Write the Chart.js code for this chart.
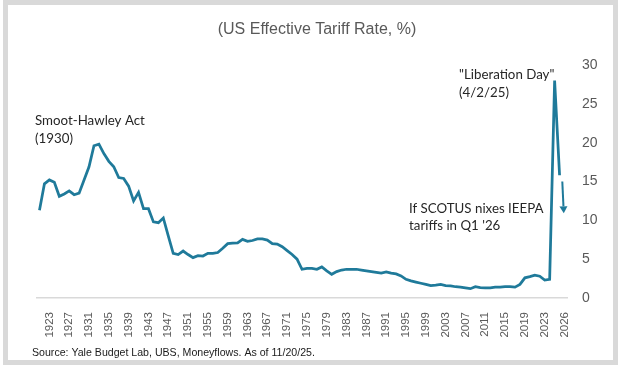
<!DOCTYPE html>
<html>
<head>
<meta charset="utf-8">
<script src="https://cdn.jsdelivr.net/npm/chart.js@4.4.1/dist/chart.umd.min.js"></script>
<style>
  html, body { margin: 0; padding: 0; background: #ffffff; }
  .frame {
    position: absolute;
    left: 3px;
    top: 0;
    width: 605px;
    height: 355px;
    border: 5px solid #d9d9d9;
    background: #ffffff;
  }
  canvas { display: block; }
</style>
</head>
<body>
<div class="frame">
  <canvas id="tariffChart" width="605" height="355"></canvas>
</div>
<script>
// Years and US effective tariff rate (%)
const years = [
  1921, 1922, 1923, 1924, 1925, 1926, 1927, 1928, 1929, 1930,
  1931, 1932, 1933, 1934, 1935, 1936, 1937, 1938, 1939, 1940,
  1941, 1942, 1943, 1944, 1945, 1946, 1947, 1948, 1949, 1950,
  1951, 1952, 1953, 1954, 1955, 1956, 1957, 1958, 1959, 1960,
  1961, 1962, 1963, 1964, 1965, 1966, 1967, 1968, 1969, 1970,
  1971, 1972, 1973, 1974, 1975, 1976, 1977, 1978, 1979, 1980,
  1981, 1982, 1983, 1984, 1985, 1986, 1987, 1988, 1989, 1990,
  1991, 1992, 1993, 1994, 1995, 1996, 1997, 1998, 1999, 2000,
  2001, 2002, 2003, 2004, 2005, 2006, 2007, 2008, 2009, 2010,
  2011, 2012, 2013, 2014, 2015, 2016, 2017, 2018, 2019, 2020,
  2021, 2022, 2023, 2024, 2025, 2026
];
const tariffRate = [
  11.3, 14.7, 15.2, 14.9, 13.1, 13.4, 13.8, 13.3, 13.5, 15.2,
  16.9, 19.6, 19.8, 18.6, 17.6, 16.9, 15.5, 15.4, 14.4, 12.5,
  13.6, 11.5, 11.5, 9.8, 9.7, 10.3, 8.0, 5.75, 5.6, 6.05,
  5.6, 5.2, 5.45, 5.4, 5.75, 5.75, 5.85, 6.4, 7.0, 7.05,
  7.1, 7.55, 7.3, 7.4, 7.6, 7.6, 7.45, 7.0, 6.95, 6.6,
  6.1, 5.6, 5.0, 3.7, 3.8, 3.8, 3.7, 4.0, 3.5, 3.05,
  3.4, 3.6, 3.7, 3.7, 3.7, 3.6, 3.5, 3.4, 3.3, 3.2,
  3.35, 3.2, 3.1, 2.85, 2.4, 2.2, 2.05, 1.9, 1.75, 1.6,
  1.65, 1.75, 1.6, 1.55, 1.45, 1.4, 1.3, 1.2, 1.45, 1.35,
  1.3, 1.3, 1.4, 1.4, 1.45, 1.45, 1.4, 1.75, 2.6, 2.75,
  2.95, 2.8, 2.3, 2.4, 28.0, 15.8
];

// X axis labels: one every 4 slots, as in the original
const xTickLabels = [
  '1923', '1927', '1931', '1935', '1939', '1943', '1947', '1951', '1955',
  '1959', '1963', '1967', '1971', '1975', '1979', '1983', '1987', '1991',
  '1995', '1999', '2003', '2007', '2011', '2015', '2019', '2023', '2026'
];
const yTicks = [0, 5, 10, 15, 20, 25, 30];

// "If SCOTUS nixes IEEPA" arrow (year, rate)
const arrowFrom = [2026.55, 15.0];
const arrowTo = [2026.85, 10.9];

const lineColor = '#1f7a9a';
const axisGrey = '#595959';

const textPlugin = {
  id: 'textPlugin',
  afterDraw(chart) {
    const ctx = chart.ctx;
    const x = chart.scales.x;
    const y = chart.scales.y;
    ctx.save();

    // title
    ctx.fillStyle = axisGrey;
    ctx.font = '16px "Liberation Sans", Arial, sans-serif';
    ctx.textAlign = 'center';
    ctx.textBaseline = 'middle';
    ctx.fillText('(US Effective Tariff Rate, %)', 309, 25);

    // annotations
    ctx.fillStyle = '#262626';
    ctx.font = '13.3px Lato, sans-serif';
    ctx.textAlign = 'left';
    ctx.fillText('Smoot-Hawley Act', 27, 116);
    ctx.fillText('(1930)', 27, 134);
    ctx.fillText('"Liberation Day"', 451, 70);
    ctx.fillText('(4/2/25)', 451, 88);
    ctx.fillText('If SCOTUS nixes IEEPA', 401, 204);
    ctx.fillText("tariffs in Q1 '26", 401, 221);

    // source
    ctx.fillStyle = '#1a1a1a';
    ctx.font = '10.6px "Liberation Sans", Arial, sans-serif';
    ctx.fillText('Source: Yale Budget Lab, UBS, Moneyflows. As of 11/20/25.', 24, 348);

    // arrow
    const x1 = x.getPixelForValue(arrowFrom[0]);
    const y1 = y.getPixelForValue(arrowFrom[1]);
    const x2 = x.getPixelForValue(arrowTo[0]);
    const y2 = y.getPixelForValue(arrowTo[1]);
    const ang = Math.atan2(y2 - y1, x2 - x1);
    const headLen = 7, headHalf = 4;
    const bx = x2 - headLen * Math.cos(ang);
    const by = y2 - headLen * Math.sin(ang);
    ctx.strokeStyle = lineColor;
    ctx.fillStyle = lineColor;
    ctx.lineWidth = 2;
    ctx.beginPath();
    ctx.moveTo(x1, y1);
    ctx.lineTo(bx, by);
    ctx.stroke();
    ctx.beginPath();
    ctx.moveTo(x2, y2);
    ctx.lineTo(bx + headHalf * Math.sin(ang), by - headHalf * Math.cos(ang));
    ctx.lineTo(bx - headHalf * Math.sin(ang), by + headHalf * Math.cos(ang));
    ctx.closePath();
    ctx.fill();

    ctx.restore();
  }
};

const ctx = document.getElementById('tariffChart').getContext('2d');
const tariffChart = new Chart(ctx, {
  type: 'line',
  data: {
    datasets: [{
      label: 'US Effective Tariff Rate',
      data: years.map((yr, i) => ({ x: yr, y: tariffRate[i] })),
      borderColor: lineColor,
      borderWidth: 2.75,
      pointRadius: 0,
      tension: 0,
      fill: false
    }]
  },
  options: {
    responsive: false,
    animation: false,
    devicePixelRatio: 1,
    layout: {
      padding: { left: 29, top: 60, right: 0, bottom: 0 }
    },
    plugins: {
      legend: { display: false },
      tooltip: { enabled: false }
    },
    scales: {
      x: {
        type: 'linear',
        min: 1920.5,
        max: 2027.5,
        afterBuildTicks: function(scale) {
          scale.ticks = xTickLabels.map((t, i) => ({ value: 1923 + 4 * i }));
        },
        afterFit: function(scale) {
          scale.height = 62;
        },
        grid: { display: false, drawTicks: false },
        border: { display: true, color: '#d9d9d9', width: 1.5 },
        ticks: {
          autoSkip: false,
          minRotation: 90,
          maxRotation: 90,
          padding: 14,
          color: axisGrey,
          font: { family: '"Liberation Sans Narrow", "Liberation Sans", Arial', size: 11.5 },
          callback: function(value, index) {
            return xTickLabels[index];
          }
        }
      },
      y: {
        position: 'right',
        min: 0,
        max: 30,
        afterBuildTicks: function(scale) {
          scale.ticks = yTicks.map(v => ({ value: v }));
        },
        afterFit: function(scale) {
          scale.width = 46;
        },
        grid: { display: false, drawTicks: false },
        border: { display: false },
        ticks: {
          padding: 15,
          color: axisGrey,
          font: { family: '"Liberation Sans", Arial', size: 14 }
        }
      }
    }
  },
  plugins: [textPlugin]
});
</script>
</body>
</html>
